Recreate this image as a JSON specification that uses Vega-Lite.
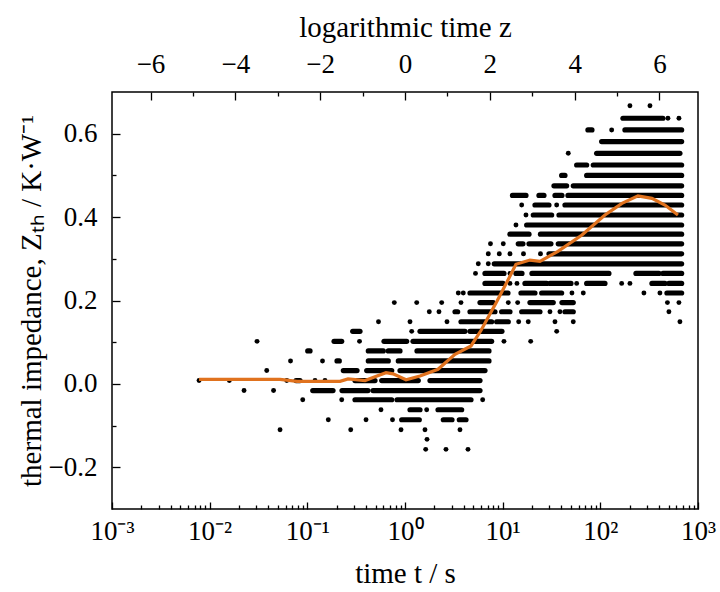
{
  "$schema": "https://vega.github.io/schema/vega-lite/v6.json",
  "width": 586,
  "height": 417,
  "autosize": "none",
  "padding": {"left": 112, "top": 92, "right": 22, "bottom": 83},
  "config": {
    "view": {"stroke": "black", "strokeWidth": 1.5},
    "axis": {
      "labelFont": "Liberation Serif", "titleFont": "Liberation Serif",
      "labelFontSize": 27, "titleFontSize": 29, "titleFontWeight": "normal",
      "labelColor": "black", "titleColor": "black", "tickColor": "black", "tickWidth": 1.3,
      "domain": false, "grid": false, "labelFlush": false, "labelOverlap": false, "labelBound": false
    }
  },
  "datasets": {
    "runs": [
      {"z1": 5.138, "z2": 6.081, "y": 0.637},
      {"z1": 4.313, "z2": 4.408, "y": 0.609}, {"z1": 5.185, "z2": 6.522, "y": 0.609},
      {"z1": 4.636, "z2": 6.522, "y": 0.581},
      {"z1": 4.518, "z2": 6.482, "y": 0.553},
      {"z1": 4.047, "z2": 4.283, "y": 0.525}, {"z1": 4.438, "z2": 6.522, "y": 0.525},
      {"z1": 3.693, "z2": 3.771, "y": 0.5}, {"z1": 4.283, "z2": 6.522, "y": 0.5},
      {"z1": 3.512, "z2": 3.811, "y": 0.475}, {"z1": 3.967, "z2": 6.522, "y": 0.475},
      {"z1": 2.534, "z2": 2.852, "y": 0.452}, {"z1": 3.158, "z2": 3.276, "y": 0.452}, {"z1": 3.536, "z2": 3.7, "y": 0.452}, {"z1": 3.842, "z2": 6.522, "y": 0.452},
      {"z1": 3.064, "z2": 3.394, "y": 0.429}, {"z1": 3.771, "z2": 6.522, "y": 0.429},
      {"z1": 3.024, "z2": 3.458, "y": 0.405}, {"z1": 3.63, "z2": 6.522, "y": 0.405},
      {"z1": 2.868, "z2": 6.522, "y": 0.381},
      {"z1": 2.475, "z2": 2.923, "y": 0.359}, {"z1": 3.194, "z2": 6.522, "y": 0.359},
      {"z1": 2.67, "z2": 2.781, "y": 0.336}, {"z1": 2.923, "z2": 3.441, "y": 0.336}, {"z1": 3.613, "z2": 6.522, "y": 0.336},
      {"z1": 3.394, "z2": 6.522, "y": 0.312},
      {"z1": 2.105, "z2": 6.522, "y": 0.288},
      {"z1": 1.886, "z2": 2.333, "y": 0.265}, {"z1": 2.616, "z2": 2.758, "y": 0.265}, {"z1": 2.993, "z2": 4.808, "y": 0.265}, {"z1": 5.445, "z2": 5.987, "y": 0.265}, {"z1": 6.081, "z2": 6.522, "y": 0.265},
      {"z1": 1.886, "z2": 2.31, "y": 0.241}, {"z1": 2.828, "z2": 3.34, "y": 0.241}, {"z1": 3.418, "z2": 3.913, "y": 0.241}, {"z1": 4.283, "z2": 4.714, "y": 0.241}, {"z1": 5.822, "z2": 6.128, "y": 0.241}, {"z1": 6.222, "z2": 6.522, "y": 0.241},
      {"z1": 1.532, "z2": 2.428, "y": 0.218}, {"z1": 2.734, "z2": 3.064, "y": 0.218}, {"z1": 3.222, "z2": 3.693, "y": 0.218}, {"z1": 6.175, "z2": 6.522, "y": 0.218},
      {"z1": 1.768, "z2": 2.081, "y": 0.195}, {"z1": 2.946, "z2": 3.495, "y": 0.195}, {"z1": 3.7, "z2": 3.967, "y": 0.195},
      {"z1": 1.179, "z2": 1.242, "y": 0.173}, {"z1": 1.532, "z2": 2.121, "y": 0.173}, {"z1": 2.279, "z2": 2.475, "y": 0.173}, {"z1": 2.751, "z2": 3.182, "y": 0.173}, {"z1": 3.771, "z2": 3.967, "y": 0.173},
      {"z1": 1.32, "z2": 2.043, "y": 0.149}, {"z1": 2.161, "z2": 2.435, "y": 0.149},
      {"z1": -1.233, "z2": -1.061, "y": 0.126}, {"z1": 0.354, "z2": 1.414, "y": 0.126}, {"z1": 1.532, "z2": 2.286, "y": 0.126},
      {"z1": -1.673, "z2": -1.492, "y": 0.102}, {"z1": -0.495, "z2": 0.04, "y": 0.102}, {"z1": 0.189, "z2": 2.043, "y": 0.102},
      {"z1": -2.293, "z2": -2.239, "y": 0.079}, {"z1": -0.865, "z2": -0.511, "y": 0.079}, {"z1": -0.394, "z2": -0.118, "y": 0.079}, {"z1": 0.283, "z2": 1.98, "y": 0.079},
      {"z1": -1.603, "z2": -1.549, "y": 0.055}, {"z1": -0.865, "z2": -0.394, "y": 0.055}, {"z1": -0.158, "z2": 1.98, "y": 0.055},
      {"z1": -1.454, "z2": -1.131, "y": 0.032}, {"z1": -0.903, "z2": -0.313, "y": 0.032}, {"z1": -0.118, "z2": 1.886, "y": 0.032},
      {"z1": -2.569, "z2": -2.475, "y": 0.008}, {"z1": -1.179, "z2": -0.707, "y": 0.008}, {"z1": -0.549, "z2": 0.313, "y": 0.008}, {"z1": 0.589, "z2": 1.768, "y": 0.008},
      {"z1": -2.175, "z2": -1.697, "y": -0.016}, {"z1": -1.485, "z2": -0.872, "y": -0.016}, {"z1": -0.754, "z2": 1.768, "y": -0.016},
      {"z1": -1.179, "z2": -0.313, "y": -0.038}, {"z1": -0.189, "z2": 1.556, "y": -0.038},
      {"z1": 0.118, "z2": 0.354, "y": -0.062}, {"z1": 0.778, "z2": 1.336, "y": -0.062},
      {"z1": -0.078, "z2": 0.337, "y": -0.086}, {"z1": 0.903, "z2": 1.108, "y": -0.086}, {"z1": 1.28, "z2": 1.438, "y": -0.086}
    ],
    "dots": [
      {"z": 5.303, "y": 0.667}, {"z": 5.775, "y": 0.667},
      {"z": 6.199, "y": 0.637}, {"z": 6.458, "y": 0.637},
      {"z": 4.872, "y": 0.609},
      {"z": 3.849, "y": 0.553},
      {"z": 2.751, "y": 0.429}, {"z": 3.576, "y": 0.429},
      {"z": 2.852, "y": 0.405},
      {"z": 2.616, "y": 0.381},
      {"z": 2.015, "y": 0.336}, {"z": 2.317, "y": 0.336},
      {"z": 1.963, "y": 0.312}, {"z": 2.223, "y": 0.312}, {"z": 2.475, "y": 0.312}, {"z": 2.793, "y": 0.312}, {"z": 3.194, "y": 0.312},
      {"z": 1.728, "y": 0.288}, {"z": 1.963, "y": 0.288},
      {"z": 1.662, "y": 0.265}, {"z": 2.475, "y": 0.265},
      {"z": 2.475, "y": 0.241}, {"z": 2.64, "y": 0.241}, {"z": 4.047, "y": 0.241}, {"z": 5.108, "y": 0.241}, {"z": 5.303, "y": 0.241},
      {"z": 1.256, "y": 0.218}, {"z": 1.374, "y": 0.218}, {"z": 3.936, "y": 0.218}, {"z": 4.203, "y": 0.218}, {"z": 5.633, "y": 0.218}, {"z": 6.01, "y": 0.218},
      {"z": -0.252, "y": 0.195}, {"z": 0.276, "y": 0.195}, {"z": 0.865, "y": 0.195}, {"z": 1.32, "y": 0.195}, {"z": 2.435, "y": 0.195}, {"z": 2.656, "y": 0.195}, {"z": 6.187, "y": 0.195}, {"z": 6.458, "y": 0.195},
      {"z": 0.573, "y": 0.173}, {"z": 0.801, "y": 0.173}, {"z": 3.418, "y": 0.173}, {"z": 3.653, "y": 0.173}, {"z": 6.222, "y": 0.173},
      {"z": -0.625, "y": 0.149}, {"z": 0.118, "y": 0.149}, {"z": 0.99, "y": 0.149}, {"z": 2.68, "y": 0.149}, {"z": 2.906, "y": 0.149}, {"z": 3.536, "y": 0.149}, {"z": 3.967, "y": 0.149}, {"z": 6.482, "y": 0.149},
      {"z": 0.158, "y": 0.126}, {"z": 3.576, "y": 0.126},
      {"z": -3.488, "y": 0.102}, {"z": -1.072, "y": 0.102}, {"z": 2.333, "y": 0.102}, {"z": 2.963, "y": 0.102},
      {"z": -2.699, "y": 0.055}, {"z": -1.945, "y": 0.055},
      {"z": -3.26, "y": 0.032},
      {"z": -4.855, "y": 0.008}, {"z": -4.141, "y": 0.008}, {"z": -2.788, "y": 0.008}, {"z": -2.121, "y": 0.008}, {"z": -1.886, "y": 0.008},
      {"z": -3.795, "y": -0.016}, {"z": -3.099, "y": -0.016},
      {"z": -2.411, "y": -0.038}, {"z": -1.492, "y": -0.038}, {"z": 1.831, "y": -0.038},
      {"z": -0.566, "y": -0.062}, {"z": 0.511, "y": -0.062},
      {"z": -1.808, "y": -0.086}, {"z": -0.919, "y": -0.086}, {"z": -0.295, "y": -0.086},
      {"z": -2.946, "y": -0.11}, {"z": -1.28, "y": -0.11}, {"z": -0.094, "y": -0.11}, {"z": 0.471, "y": -0.11}, {"z": 1.296, "y": -0.11},
      {"z": 0.519, "y": -0.133},
      {"z": 0.488, "y": -0.157}, {"z": 0.966, "y": -0.157}, {"z": 1.485, "y": -0.157}
    ],
    "line": [
      {"z": -4.855, "y": 0.011}, {"z": -2.946, "y": 0.011}, {"z": -2.546, "y": 0.006}, {"z": -1.532, "y": 0.006},
      {"z": -1.343, "y": 0.012}, {"z": -0.943, "y": 0.008}, {"z": -0.66, "y": 0.019}, {"z": -0.448, "y": 0.027},
      {"z": -0.283, "y": 0.024}, {"z": 0.024, "y": 0.01}, {"z": 0.354, "y": 0.019}, {"z": 0.778, "y": 0.035},
      {"z": 1.179, "y": 0.071}, {"z": 1.556, "y": 0.091}, {"z": 1.791, "y": 0.128}, {"z": 2.168, "y": 0.198},
      {"z": 2.428, "y": 0.249}, {"z": 2.616, "y": 0.287}, {"z": 2.946, "y": 0.297}, {"z": 3.182, "y": 0.294},
      {"z": 3.606, "y": 0.318}, {"z": 4.172, "y": 0.357}, {"z": 4.714, "y": 0.405}, {"z": 5.115, "y": 0.433},
      {"z": 5.492, "y": 0.451}, {"z": 5.822, "y": 0.445}, {"z": 6.128, "y": 0.429}, {"z": 6.435, "y": 0.405}
    ]
  },
  "encoding": {
    "y": {
      "field": "y", "type": "quantitative",
      "scale": {"domain": [-0.3, 0.7], "nice": false, "zero": false},
      "axis": {
        "title": "thermal impedance, Zₜₕ / K·W⁻¹",
        "values": [-0.2, -0.1, 0, 0.1, 0.2, 0.3, 0.4, 0.5, 0.6],
        "labelExpr": "abs(datum.value*5-round(datum.value*5))<0.001 ? format(datum.value,'.1f') : ''",
        "tickSize": {"condition": {"test": "abs(datum.value*5-round(datum.value*5))<0.001", "value": -8}, "value": -4},
        "labelPadding": 23,
        "titlePadding": 2
      }
    }
  },
  "layer": [
    {
      "data": {"name": "runs"},
      "mark": {"type": "rule", "strokeWidth": 5.2, "strokeCap": "round", "color": "black"},
      "encoding": {
        "x": {
          "field": "z1", "type": "quantitative",
          "scale": {"domain": [-6.907755, 6.907755], "nice": false, "zero": false},
          "axis": {
            "orient": "bottom",
            "title": "time t / s",
            "values": [-6.907755, -6.214608, -5.809143, -5.521461, -5.298317, -5.115996, -4.961845, -4.828313, -4.71053,
                       -4.60517, -3.912023, -3.506558, -3.218876, -2.995732, -2.813411, -2.65926, -2.525728, -2.407945,
                       -2.302585, -1.609438, -1.203973, -0.916291, -0.693147, -0.510826, -0.356675, -0.223143, -0.10536,
                       0, 0.693147, 1.098612, 1.386294, 1.609438, 1.791759, 1.94591, 2.079442, 2.197225,
                       2.302585, 2.995732, 3.401197, 3.688879, 3.912023, 4.094344, 4.248495, 4.382027, 4.49981,
                       4.60517, 5.298317, 5.703782, 5.991464, 6.214608, 6.396929, 6.55108, 6.684612, 6.802395, 6.907755],
            "labelExpr": "abs(datum.value/2.302585-round(datum.value/2.302585))<0.001 ? ['10⁻³','10⁻²','10⁻¹','10⁰','10¹','10²','10³'][round(datum.value/2.302585)+3] : ''",
            "tickSize": {"condition": {"test": "abs(datum.value/2.302585-round(datum.value/2.302585))<0.001", "value": -7}, "value": -4},
            "labelPadding": 16,
            "titlePadding": 12
          }
        },
        "x2": {"field": "z2"}
      }
    },
    {
      "data": {"name": "dots"},
      "mark": {"type": "circle", "size": 24, "color": "black", "opacity": 1},
      "encoding": {
        "x": {"field": "z", "type": "quantitative", "scale": {"domain": [-6.907755, 6.907755], "nice": false, "zero": false}, "axis": null}
      }
    },
    {
      "data": {"name": "line"},
      "mark": {"type": "line", "color": "#e0721e", "strokeWidth": 3.2},
      "encoding": {
        "x": {
          "field": "z", "type": "quantitative",
          "scale": {"domain": [-6.907755, 6.907755], "nice": false, "zero": false},
          "axis": {
            "orient": "top",
            "title": "logarithmic time z",
            "values": [-6, -5, -4, -3, -2, -1, 0, 1, 2, 3, 4, 5, 6],
            "labelExpr": "datum.value % 2 == 0 ? format(datum.value,'d') : ''",
            "tickSize": {"condition": {"test": "datum.value % 2 == 0", "value": -8}, "value": -4},
            "labelPadding": 22,
            "titlePadding": 4
          }
        }
      }
    }
  ],
  "resolve": {"axis": {"x": "independent"}}
}
